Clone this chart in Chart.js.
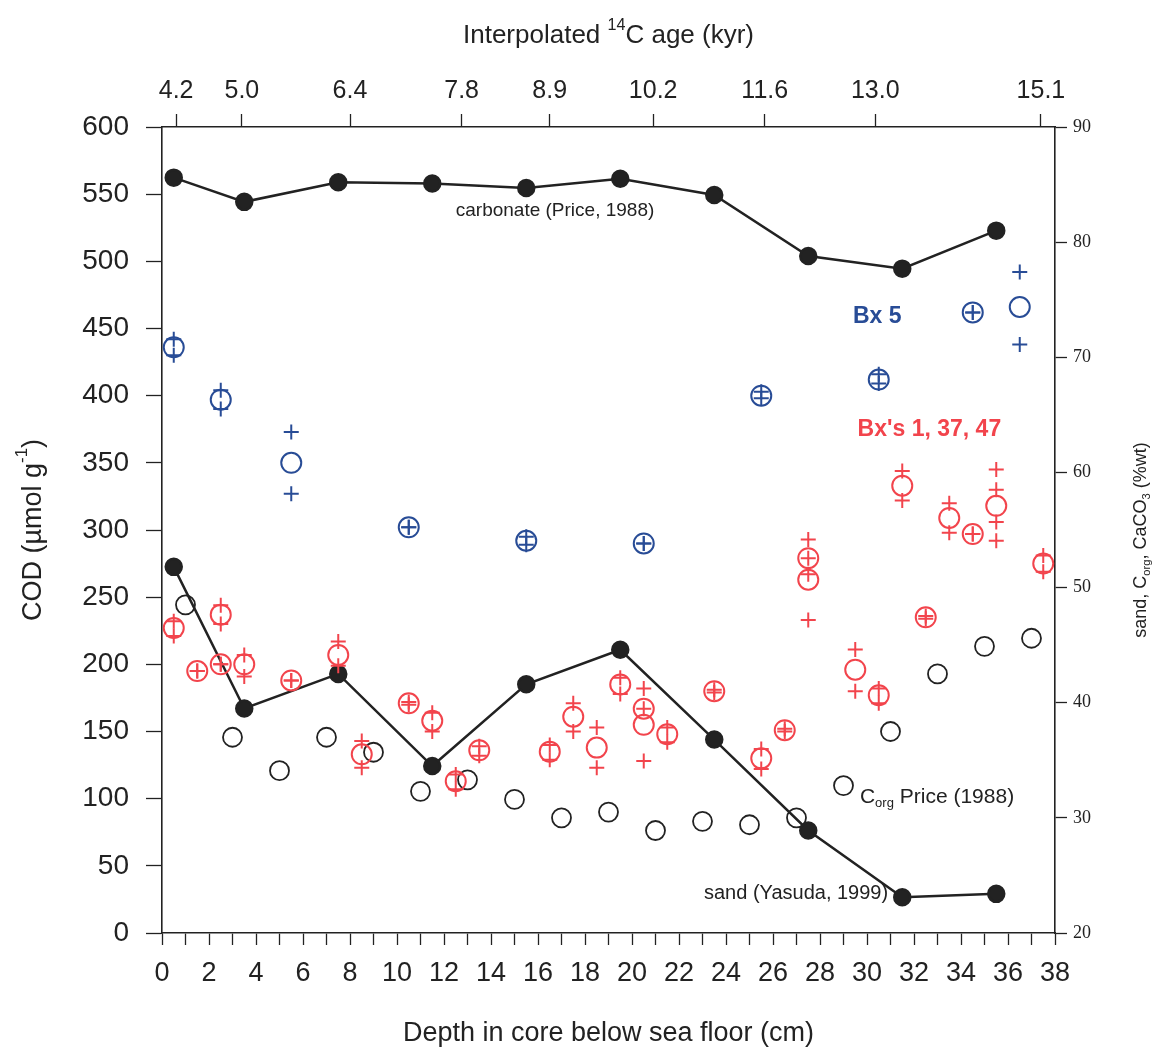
<!DOCTYPE html>
<html>
<head>
<meta charset="utf-8">
<title>COD vs depth</title>
<script src="https://cdn.jsdelivr.net/npm/chart.js@4.4.1/dist/chart.umd.min.js"></script>
<style>
  html, body { margin: 0; padding: 0; background: #ffffff; }
  #wrap { width: 1157px; height: 1052px; }
</style>
</head>
<body>
<div id="wrap"><canvas id="codChart" width="1157" height="1052"></canvas></div>
<script>
// depth (cm) of the core samples
const carbDepth = [0.5, 3.5, 7.5, 11.5, 15.5, 19.5, 23.5, 27.5, 31.5, 35.5]
// carbonate and sand (%wt, right axis)
const carbonate = [85.6, 83.5, 85.2, 85.1, 84.7, 85.5, 84.1, 78.8, 77.7, 81.0]
const sand = [51.8, 39.5, 42.5, 34.5, 41.6, 44.6, 36.8, 28.9, 23.1, 23.4]

// C org, Price (1988)
const corgDepth = [1, 3, 5, 7, 9, 11, 13, 15, 17, 19, 21, 23, 25, 27, 29, 31, 33, 35, 37]
const corg = [48.5, 37.0, 34.1, 37.0, 35.7, 32.3, 33.3, 31.6, 30.0, 30.5, 28.9, 29.7, 29.4, 30.0, 32.8, 37.5, 42.5, 44.9, 45.6]

// Bx 5 COD (umol/g): means (circles) and replicates (crosses)
const bx5Depth = [0.5, 2.5, 5.5, 10.5, 15.5, 20.5, 25.5, 30.5, 34.5, 36.5]
const bx5Mean = [436, 397, 350, 302, 292, 290, 400, 412, 462, 466]
const bx5RepDepth = [0.5, 0.5, 2.5, 2.5, 5.5, 5.5, 10.5, 10.5, 15.5, 15.5, 20.5, 20.5, 25.5, 25.5, 30.5, 30.5, 34.5, 34.5, 36.5, 36.5]
const bx5Rep = [442, 430, 404, 390, 373, 327, 302, 302, 295, 289, 290, 290, 403, 398, 416, 409, 462, 462, 492, 438]

// Bx's 1, 37, 47 COD
const bxDepth = [0.5, 1.5, 2.5, 2.5, 3.5, 5.5, 7.5, 8.5, 10.5, 11.5, 12.5, 13.5, 16.5, 17.5, 18.5, 19.5, 20.5, 20.5, 21.5, 23.5, 25.5, 26.5, 27.5, 27.5, 29.5, 30.5, 31.5, 32.5, 33.5, 34.5, 35.5, 37.5]
const bxMean = [227, 195, 237, 200, 200, 188, 207, 133, 171, 158, 113, 136, 135, 161, 138, 185, 167, 155, 148, 180, 130, 151, 279, 263, 196, 177, 333, 235, 309, 297, 318, 275]
const bxRepDepth = [0.5, 0.5, 1.5, 1.5, 2.5, 2.5, 2.5, 2.5, 3.5, 3.5, 5.5, 5.5, 7.5, 7.5, 8.5, 8.5, 10.5, 10.5, 11.5, 11.5, 12.5, 12.5, 13.5, 13.5,
  16.5, 16.5, 17.5, 17.5, 18.5, 18.5, 19.5, 19.5, 20.5, 20.5, 20.5, 21.5, 21.5, 23.5, 23.5, 25.5, 25.5, 26.5, 26.5,
  27.5, 27.5, 27.5, 27.5, 29.5, 29.5, 30.5, 30.5, 31.5, 31.5, 32.5, 32.5, 33.5, 33.5, 34.5, 34.5, 35.5, 35.5, 35.5, 35.5, 37.5, 37.5]
const bxRep = [232, 221, 195, 195, 244, 230, 200, 200, 207, 191, 188, 188, 217, 199, 143, 123, 172, 170, 164, 150, 118, 107, 139, 132,
  140, 129, 171, 150, 153, 123, 190, 178, 182, 167, 128, 153, 142, 181, 179, 137, 122, 152, 150,
  293, 279, 267, 233, 211, 180, 182, 171, 344, 322, 236, 234, 320, 298, 297, 297, 345, 330, 306, 292, 281, 269]

// top axis: interpolated 14C age at depth
const ageDepth = [0.6, 3.4, 8.0, 12.75, 16.5, 20.9, 25.65, 30.35, 37.4]
const ageLabels = ["4.2", "5.0", "6.4", "7.8", "8.9", "10.2", "11.6", "13.0", "15.1"]

const BLUE = "#284c96"
const RED = "#f2444c"
const INK = "#222222"
const SANS = "'Liberation Sans', Arial, sans-serif"

function pts(xs, ys) {
  return xs.map((d, i) => ({ x: d, y: ys[i] }))
}

// draws text made of normal / sup / sub pieces
function richText(ctx, parts, x, y, size, align) {
  let total = 0
  parts.forEach((p) => {
    const s = p[1] === "n" ? size : size * 0.62
    ctx.font = s + "px " + SANS
    total += ctx.measureText(p[0]).width
  })
  let cx = align === "left" ? x : align === "right" ? x - total : x - total / 2
  ctx.textAlign = "left"
  ctx.textBaseline = "middle"
  parts.forEach((p) => {
    const s = p[1] === "n" ? size : size * 0.62
    const dy = p[1] === "sup" ? -size * 0.42 : p[1] === "sub" ? size * 0.32 : 0
    ctx.font = s + "px " + SANS
    ctx.fillText(p[0], cx, y + dy)
    cx += ctx.measureText(p[0]).width
  })
}

const labelsPlugin = {
  id: "labels",
  afterDraw(chart) {
    const ctx = chart.ctx
    const x = chart.scales.x
    const y = chart.scales.y
    const y2 = chart.scales.y2
    const area = chart.chartArea
    ctx.save()
    ctx.fillStyle = INK

    // axis titles
    richText(ctx, [["Interpolated ", "n"], ["14", "sup"], ["C age (kyr)", "n"]], (area.left + area.right) / 2, 36, 26, "center")
    richText(ctx, [["Depth in core below sea floor (cm)", "n"]], (area.left + area.right) / 2, 1034, 27, "center")

    ctx.save()
    ctx.translate(34, (area.top + area.bottom) / 2)
    ctx.rotate(-Math.PI / 2)
    richText(ctx, [["COD (\u00b5mol g", "n"], ["-1", "sup"], [")", "n"]], 0, 0, 27, "center")
    ctx.restore()

    ctx.save()
    ctx.translate(1141, (area.top + area.bottom) / 2 + 10)
    ctx.rotate(-Math.PI / 2)
    richText(ctx, [["sand, C", "n"], ["org", "sub"], [", CaCO", "n"], ["3", "sub"], [" (%wt)", "n"]], 0, 0, 18, "center")
    ctx.restore()

    // series labels
    richText(ctx, [["carbonate (Price, 1988)", "n"]], x.getPixelForValue(12.5), y2.getPixelForValue(82.7), 19, "left")
    richText(ctx, [["C", "n"], ["org", "sub"], [" Price (1988)", "n"]], x.getPixelForValue(29.7), y2.getPixelForValue(31.8), 21, "left")
    richText(ctx, [["sand (Yasuda, 1999)", "n"]], x.getPixelForValue(30.9), y2.getPixelForValue(23.4), 20, "right")

    ctx.fillStyle = BLUE
    ctx.font = "bold 23px " + SANS
    ctx.textAlign = "left"
    ctx.fillText("Bx 5", x.getPixelForValue(29.4), y.getPixelForValue(459))
    ctx.fillStyle = RED
    ctx.font = "bold 23px " + SANS
    ctx.fillText("Bx's 1, 37, 47", x.getPixelForValue(29.6), y.getPixelForValue(375))
    ctx.restore()
  },
}

function axisGrid(len) {
  return { drawOnChartArea: false, drawTicks: true, tickLength: len, color: INK, tickColor: INK, tickWidth: 1.3 }
}
const axisBorder = { display: true, color: INK, width: 1.6 }

function initChart() {
  if (typeof Chart === "undefined") {
    console.error("Chart.js not loaded")
    return
  }
  const ctx = document.getElementById("codChart")

  new Chart(ctx, {
    type: "scatter",
    data: {
      datasets: [
        {
          label: "Bx 5 replicates",
          data: pts(bx5RepDepth, bx5Rep),
          yAxisID: "y",
          pointStyle: "cross",
          pointRadius: 7.5,
          borderColor: BLUE,
          borderWidth: 2,
        },
        {
          label: "Bx 5",
          data: pts(bx5Depth, bx5Mean),
          yAxisID: "y",
          pointStyle: "circle",
          pointRadius: 10,
          borderColor: BLUE,
          backgroundColor: "rgba(0,0,0,0)",
          borderWidth: 2,
        },
        {
          label: "Bx's replicates",
          data: pts(bxRepDepth, bxRep),
          yAxisID: "y",
          pointStyle: "cross",
          pointRadius: 7.5,
          borderColor: RED,
          borderWidth: 2,
        },
        {
          label: "Bx's 1, 37, 47",
          data: pts(bxDepth, bxMean),
          yAxisID: "y",
          pointStyle: "circle",
          pointRadius: 10,
          borderColor: RED,
          backgroundColor: "rgba(0,0,0,0)",
          borderWidth: 2,
        },
        {
          label: "carbonate",
          data: pts(carbDepth, carbonate),
          yAxisID: "y2",
          showLine: true,
          borderColor: INK,
          borderWidth: 2.5,
          pointRadius: 8,
          pointBackgroundColor: INK,
          pointBorderColor: INK,
        },
        {
          label: "sand",
          data: pts(carbDepth, sand),
          yAxisID: "y2",
          showLine: true,
          borderColor: INK,
          borderWidth: 2.5,
          pointRadius: 8,
          pointBackgroundColor: INK,
          pointBorderColor: INK,
        },
        {
          label: "Corg",
          data: pts(corgDepth, corg),
          yAxisID: "y2",
          pointStyle: "circle",
          pointRadius: 9.5,
          borderColor: INK,
          backgroundColor: "rgba(0,0,0,0)",
          borderWidth: 1.8,
        },
      ],
    },
    options: {
      responsive: false,
      animation: false,
      layout: { padding: 0 },
      plugins: {
        legend: { display: false },
        tooltip: { enabled: false },
      },
      scales: {
        x: {
          type: "linear",
          position: "bottom",
          min: 0,
          max: 38,
          grid: axisGrid(12),
          border: axisBorder,
          ticks: {
            stepSize: 1,
            autoSkip: false,
            maxRotation: 0,
            padding: 12,
            color: INK,
            font: { family: SANS, size: 27 },
            callback: (v) => (v % 2 === 0 ? v : ""),
          },
          afterFit: (s) => { s.height = 119 },
        },
        xTop: {
          type: "linear",
          position: "top",
          min: 0,
          max: 38,
          grid: axisGrid(13),
          border: axisBorder,
          afterBuildTicks: (s) => { s.ticks = ageDepth.map((v) => ({ value: v })) },
          ticks: {
            autoSkip: false,
            maxRotation: 0,
            padding: 8,
            color: INK,
            font: { family: SANS, size: 25 },
            callback: (v, i) => ageLabels[i],
          },
          afterFit: (s) => { s.height = 127 },
        },
        y: {
          position: "left",
          min: 0,
          max: 600,
          grid: axisGrid(16),
          border: axisBorder,
          ticks: {
            stepSize: 50,
            padding: 17,
            color: INK,
            font: { family: SANS, size: 28 },
          },
          afterFit: (s) => { s.width = 162 },
        },
        y2: {
          position: "right",
          min: 20,
          max: 90,
          grid: axisGrid(12),
          border: axisBorder,
          ticks: {
            stepSize: 10,
            padding: 6,
            color: INK,
            font: { family: "'Liberation Serif', 'Times New Roman', serif", size: 18 },
          },
          afterFit: (s) => { s.width = 102 },
        },
      },
    },
    plugins: [labelsPlugin],
  })
}

initChart()
</script>
</body>
</html>
